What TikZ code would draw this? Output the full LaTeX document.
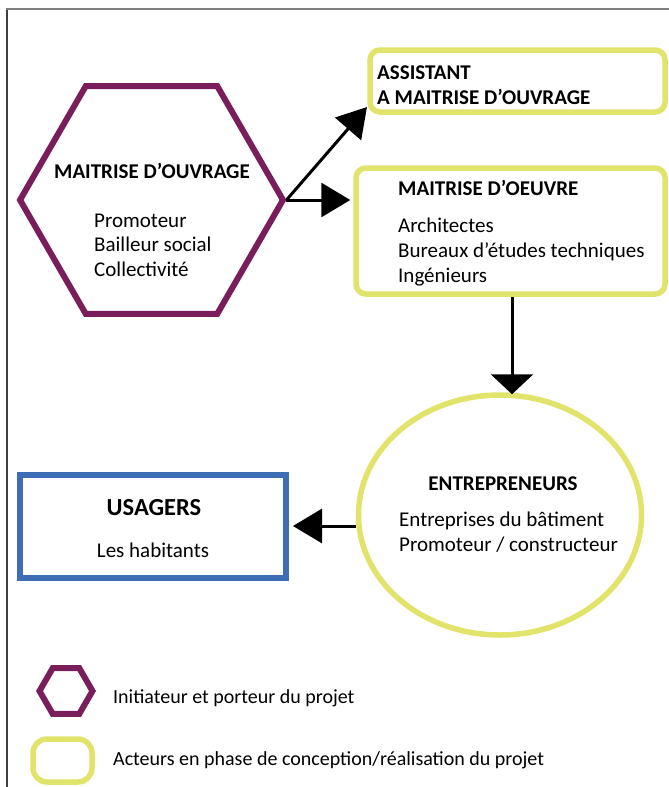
\documentclass[tikz,border=0pt]{standalone}
\usepackage{fontspec}
\setmainfont{Carlito}
\usetikzlibrary{shapes.geometric,arrows.meta}
\definecolor{mopurple}{HTML}{7A1E5B}
\definecolor{actyellow}{HTML}{E1E36A}
\definecolor{usablue}{HTML}{3D6DB4}
\definecolor{framegray}{HTML}{7F7F7F}
\tikzset{
  hexa/.style={draw=mopurple, line width=6pt, regular polygon, regular polygon sides=6, inner sep=0pt},
  actorbox/.style={draw=actyellow, line width=5.5pt, rounded corners=10pt, rectangle, inner sep=0pt},
  headtxt/.style={font=\bfseries\fontsize{21}{25}\selectfont, inner sep=0pt},
  bodytxt/.style={font=\fontsize{21}{25}\selectfont, inner sep=0pt, anchor=base west},
  legtxt/.style={font=\fontsize{20}{24}\selectfont, inner sep=0pt, anchor=base west},
  arr/.style={line width=3pt, -{Triangle[length=29pt,width=34pt]}},
  arrflat/.style={line width=3pt, -{Triangle[length=20pt,width=42pt]}},
}
\begin{document}
\begin{tikzpicture}[x=1pt,y=-1pt]
\useasboundingbox (0,0) rectangle (669,787);
% frame
\draw[framegray, line width=1.5pt] (7,787) -- (7,9) -- (669,9);
\draw[black!75, line width=1.5pt] (7,787) -- (7,9.5);

% maitrise d'ouvrage
\node[hexa, minimum size=263pt] (mo) at (151.5,200) {};
\node[headtxt, anchor=base] (moT) at (152,178) {MAITRISE D’OUVRAGE};
\node[bodytxt] (mo1) at (94,227) {Promoteur};
\node[bodytxt] (mo2) at (94,251) {Bailleur social};
\node[bodytxt] (mo3) at (94,276) {Collectivité};

% assistant
\node[actorbox, minimum width=295pt, minimum height=62pt] (asst) at (517.5,81) {};
\node[headtxt, anchor=base west] (asT1) at (377,79) {ASSISTANT};
\node[headtxt, anchor=base west] (asT2) at (377,104) {A MAITRISE D’OUVRAGE};
\coordinate (asstTip) at (367,107);

% maitrise d'oeuvre
\node[actorbox, minimum width=309pt, minimum height=126pt] (moe) at (510.5,231) {};
\node[headtxt, anchor=base west] (moeT) at (398,195) {MAITRISE D’OEUVRE};
\node[bodytxt] (moe1) at (398,232) {Architectes};
\node[bodytxt] (moe2) at (398,257) {Bureaux d’études techniques};
\node[bodytxt] (moe3) at (398,282) {Ingénieurs};

% entrepreneurs
\node[draw=actyellow, line width=5.5pt, ellipse, inner sep=0pt, minimum width=283pt, minimum height=240pt] (ent) at (500,515) {};
\node[headtxt, anchor=base] (entT) at (503,490) {ENTREPRENEURS};
\node[bodytxt] (ent1) at (399,526) {Entreprises du bâtiment};
\node[bodytxt] (ent2) at (399,551) {Promoteur / constructeur};

% usagers
\node[draw=usablue, line width=6pt, rectangle, inner sep=0pt, minimum width=266pt, minimum height=103pt] (usa) at (153,526.5) {};
\node[font=\bfseries\fontsize{24.5}{29}\selectfont, inner sep=0pt, anchor=base] (usaT) at (154,515) {USAGERS};
\node[font=\fontsize{21}{25}\selectfont, inner sep=0pt, anchor=base] (usa1) at (153,557) {Les habitants};

% connectors
\draw[arr] (mo.east) -- (asstTip);
\draw[arr] (mo.east) -- ([xshift=-3pt]mo.east -| moe.west);
\draw[arrflat] ([xshift=1.5pt]moe.south) -- ([xshift=1.5pt,yshift=-2pt]moe.south |- ent.north);
\coordinate (entL) at ([yshift=-11pt]ent.west);
\draw[arr] (entL) -- ([xshift=4pt]entL -| usa.east);

% legend
\node[hexa, minimum size=53pt] (legH) at (66,691) {};
\node[legtxt] (legHT) at (113,703) {Initiateur et porteur du projet};
\node[actorbox, rounded corners=14pt, minimum width=59pt, minimum height=43pt] (legR) at (62.5,760.5) {};
\node[legtxt] (legRT) at (113,765) {Acteurs en phase de conception/réalisation du projet};
\end{tikzpicture}
\end{document}
